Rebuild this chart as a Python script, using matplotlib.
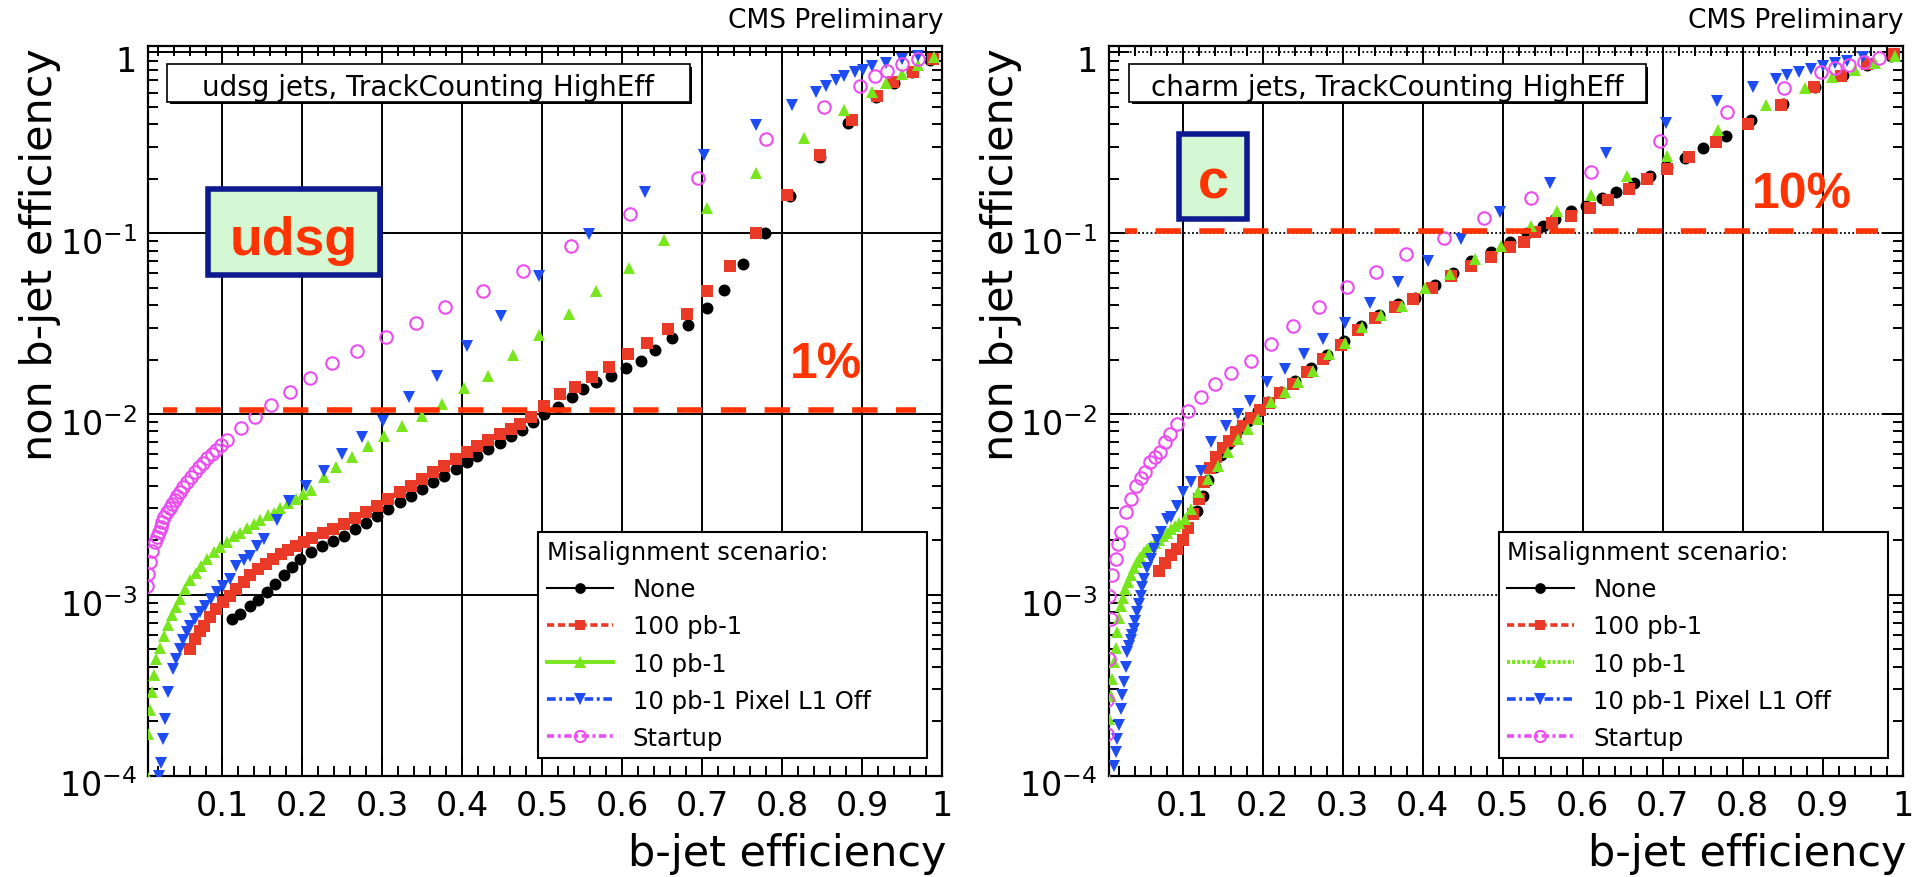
import matplotlib
matplotlib.use('Agg')
import matplotlib.pyplot as plt
from matplotlib.lines import Line2D
from matplotlib.patches import Rectangle
from matplotlib.ticker import FixedLocator, NullFormatter, LogLocator
import matplotlib.transforms as mtransforms

plt.rcParams['font.family'] = ['DejaVu Sans']
plt.rcParams['mathtext.fontset'] = 'dejavusans'

# ---------------- data ----------------
x_ticks = [0.1, 0.2, 0.3, 0.4, 0.5, 0.6, 0.7, 0.8, 0.9, 1.0]
x_tick_labels = ['0.1', '0.2', '0.3', '0.4', '0.5', '0.6', '0.7', '0.8', '0.9', '1']
y_ticks = [1e-4, 1e-3, 1e-2, 1e-1, 1.0]
y_tick_labels = [r'$\mathregular{10^{-4}}$', r'$\mathregular{10^{-3}}$',
                 r'$\mathregular{10^{-2}}$', r'$\mathregular{10^{-1}}$', '1']
scenario_labels = ['None', '100 pb-1', '10 pb-1', '10 pb-1 Pixel L1 Off', 'Startup']

# udsg jets
udsg_none_eff = [0.112, 0.122, 0.135, 0.145, 0.156, 0.166, 0.177, 0.187, 0.198, 0.211,
                 0.225, 0.239, 0.253, 0.266, 0.280, 0.294, 0.308, 0.322, 0.336, 0.350,
                 0.364, 0.378, 0.392, 0.406, 0.419, 0.433, 0.447, 0.461, 0.475, 0.489,
                 0.503, 0.520, 0.537, 0.551, 0.568, 0.586, 0.605, 0.624, 0.641, 0.663,
                 0.683, 0.706, 0.728, 0.751, 0.779, 0.810, 0.848, 0.882, 0.918, 0.940,
                 0.962, 0.985]
udsg_none_rej = [7.3e-4, 7.8e-4, 8.7e-4, 9.4e-4, 1.03e-3, 1.15e-3, 1.28e-3, 1.42e-3, 1.58e-3, 1.72e-3,
                 1.86e-3, 1.99e-3, 2.12e-3, 2.3e-3, 2.5e-3, 2.74e-3, 2.98e-3, 3.25e-3, 3.53e-3, 3.85e-3,
                 4.2e-3, 4.56e-3, 4.98e-3, 5.4e-3, 5.88e-3, 6.4e-3, 6.95e-3, 7.6e-3, 8.2e-3, 9.0e-3,
                 1.0e-2, 1.1e-2, 1.24e-2, 1.37e-2, 1.5e-2, 1.63e-2, 1.79e-2, 1.97e-2, 2.26e-2, 2.62e-2,
                 3.11e-2, 3.85e-2, 4.88e-2, 6.73e-2, 0.1005, 0.160, 0.263, 0.408, 0.566, 0.68,
                 0.78, 0.91]

udsg_100_eff = [0.060, 0.066, 0.072, 0.077, 0.085, 0.093, 0.101, 0.110, 0.118, 0.127,
                0.135, 0.145, 0.155, 0.164, 0.174, 0.183, 0.192, 0.202, 0.213, 0.226,
                0.239, 0.253, 0.266, 0.280, 0.294, 0.308, 0.322, 0.336, 0.350, 0.364,
                0.378, 0.392, 0.406, 0.419, 0.433, 0.447, 0.461, 0.472, 0.486, 0.503,
                0.523, 0.541, 0.562, 0.584, 0.608, 0.631, 0.658, 0.681, 0.706, 0.735,
                0.768, 0.806, 0.848, 0.887, 0.919, 0.939, 0.964, 0.989]
udsg_100_rej = [5.0e-4, 5.7e-4, 6.3e-4, 6.7e-4, 7.5e-4, 8.3e-4, 9.1e-4, 9.9e-4, 1.08e-3, 1.18e-3,
                1.28e-3, 1.38e-3, 1.48e-3, 1.58e-3, 1.68e-3, 1.77e-3, 1.86e-3, 1.95e-3, 2.05e-3, 2.2e-3,
                2.32e-3, 2.46e-3, 2.65e-3, 2.88e-3, 3.11e-3, 3.38e-3, 3.68e-3, 4.01e-3, 4.38e-3, 4.77e-3,
                5.17e-3, 5.65e-3, 6.15e-3, 6.68e-3, 7.2e-3, 7.75e-3, 8.3e-3, 8.8e-3, 9.6e-3, 1.11e-2,
                1.29e-2, 1.41e-2, 1.6e-2, 1.81e-2, 2.15e-2, 2.47e-2, 2.95e-2, 3.57e-2, 4.78e-2, 6.57e-2,
                0.1005, 0.163, 0.271, 0.425, 0.574, 0.685, 0.778, 0.92]

udsg_10_eff = [0.0067, 0.008, 0.010, 0.012, 0.015, 0.018, 0.022, 0.027, 0.032, 0.037,
               0.042, 0.048, 0.054, 0.060, 0.067, 0.074, 0.081, 0.090, 0.098, 0.106,
               0.115, 0.123, 0.131, 0.140, 0.148, 0.157, 0.165, 0.173, 0.182, 0.192,
               0.201, 0.211, 0.228, 0.243, 0.263, 0.283, 0.302, 0.325, 0.350, 0.375,
               0.402, 0.432, 0.464, 0.496, 0.534, 0.568, 0.609, 0.653, 0.706, 0.768,
               0.828, 0.878, 0.912, 0.930, 0.950, 0.970, 0.990]
udsg_10_rej = [1.0e-4, 1.7e-4, 2.3e-4, 2.9e-4, 3.6e-4, 4.4e-4, 5.1e-4, 5.9e-4, 6.8e-4, 7.7e-4,
               8.5e-4, 9.5e-4, 1.08e-3, 1.2e-3, 1.32e-3, 1.45e-3, 1.58e-3, 1.72e-3, 1.83e-3, 1.95e-3,
               2.1e-3, 2.2e-3, 2.33e-3, 2.45e-3, 2.6e-3, 2.75e-3, 2.85e-3, 3.0e-3, 3.2e-3, 3.39e-3,
               3.6e-3, 3.8e-3, 4.47e-3, 5.07e-3, 5.76e-3, 6.64e-3, 7.53e-3, 8.6e-3, 9.8e-3, 1.14e-2,
               1.39e-2, 1.63e-2, 2.12e-2, 2.74e-2, 3.57e-2, 4.81e-2, 6.4e-2, 9.18e-2, 0.1375, 0.215,
               0.336, 0.481, 0.608, 0.68, 0.76, 0.85, 0.94]

udsg_l1off_eff = [0.0217, 0.0233, 0.0267, 0.0287, 0.0329, 0.0392, 0.043, 0.0475, 0.051, 0.0558,
                  0.060, 0.0663, 0.072, 0.0788, 0.086, 0.0933, 0.101, 0.110, 0.118, 0.127,
                  0.135, 0.144, 0.1525, 0.1683, 0.1838, 0.2054, 0.2275, 0.2504, 0.2746, 0.3017,
                  0.3338, 0.369, 0.4058, 0.4483, 0.4963, 0.559, 0.6288, 0.702, 0.768, 0.813,
                  0.842, 0.855, 0.868, 0.878, 0.891, 0.901, 0.912, 0.930, 0.950, 0.970]
udsg_l1off_rej = [1.0e-4, 1.18e-4, 1.59e-4, 2.05e-4, 2.88e-4, 3.88e-4, 4.4e-4, 5.0e-4, 5.6e-4, 6.2e-4,
                  6.7e-4, 7.34e-4, 8.0e-4, 8.7e-4, 9.5e-4, 1.03e-3, 1.12e-3, 1.22e-3, 1.45e-3, 1.55e-3,
                  1.64e-3, 1.85e-3, 2.03e-3, 2.6e-3, 3.31e-3, 4.01e-3, 4.85e-3, 6.01e-3, 7.43e-3, 9.18e-3,
                  1.236e-2, 1.63e-2, 2.39e-2, 3.5e-2, 5.78e-2, 9.9e-2, 0.1686, 0.271, 0.398, 0.513,
                  0.603, 0.65, 0.70, 0.74, 0.78, 0.80, 0.84, 0.88, 0.92, 0.95]

udsg_startup_eff = [0.0058, 0.008, 0.010, 0.013, 0.0163, 0.0185, 0.0213, 0.0235, 0.0254, 0.028,
                    0.0317, 0.035, 0.038, 0.041, 0.044, 0.048, 0.0517, 0.056, 0.0608, 0.066,
                    0.0713, 0.076, 0.0817, 0.087, 0.092, 0.099, 0.1067, 0.1233, 0.1413, 0.161,
                    0.1846, 0.21, 0.2379, 0.269, 0.3054, 0.342, 0.3788, 0.4267, 0.4763, 0.536,
                    0.6105, 0.695, 0.78, 0.852, 0.8975, 0.916, 0.931, 0.95, 0.97]
udsg_startup_rej = [1.12e-3, 1.3e-3, 1.51e-3, 1.75e-3, 1.95e-3, 2.08e-3, 2.22e-3, 2.38e-3, 2.52e-3, 2.68e-3,
                    2.86e-3, 3.02e-3, 3.18e-3, 3.35e-3, 3.53e-3, 3.72e-3, 3.93e-3, 4.2e-3, 4.47e-3, 4.77e-3,
                    5.07e-3, 5.38e-3, 5.69e-3, 6.0e-3, 6.34e-3, 6.75e-3, 7.21e-3, 8.34e-3, 9.6e-3, 1.12e-2,
                    1.33e-2, 1.58e-2, 1.91e-2, 2.22e-2, 2.66e-2, 3.18e-2, 3.9e-2, 4.77e-2, 6.21e-2, 8.54e-2,
                    0.127, 0.2015, 0.333, 0.502, 0.656, 0.74, 0.79, 0.86, 0.92]

# charm jets
charm_none_eff = [0.118, 0.125, 0.132, 0.140, 0.148, 0.157, 0.165, 0.173, 0.182, 0.194,
                  0.207, 0.223, 0.240, 0.261, 0.280, 0.302, 0.323, 0.346, 0.369, 0.390,
                  0.415, 0.438, 0.461, 0.486, 0.509, 0.530, 0.550, 0.566, 0.585, 0.604,
                  0.624, 0.642, 0.664, 0.684, 0.706, 0.728, 0.751, 0.779, 0.810, 0.850,
                  0.890, 0.925, 0.955, 0.985]
charm_none_rej = [2.9e-3, 3.5e-3, 4.3e-3, 5.1e-3, 5.9e-3, 6.8e-3, 7.6e-3, 8.4e-3, 9.2e-3, 1.04e-2,
                  1.17e-2, 1.33e-2, 1.52e-2, 1.79e-2, 2.12e-2, 2.52e-2, 3.05e-2, 3.55e-2, 4.05e-2, 4.4e-2,
                  5.2e-2, 6.05e-2, 7.0e-2, 7.9e-2, 8.9e-2, 1.0e-1, 0.110, 0.120, 0.132, 0.141,
                  0.156, 0.170, 0.190, 0.206, 0.232, 0.260, 0.295, 0.344, 0.424, 0.52,
                  0.64, 0.75, 0.85, 0.95]

charm_100_eff = [0.070, 0.078, 0.086, 0.093, 0.100, 0.107, 0.113, 0.120, 0.127, 0.134,
                 0.142, 0.150, 0.158, 0.167, 0.176, 0.186, 0.197, 0.208, 0.222, 0.238,
                 0.256, 0.276, 0.298, 0.319, 0.341, 0.365, 0.388, 0.412, 0.436, 0.461,
                 0.486, 0.509, 0.527, 0.541, 0.562, 0.585, 0.609, 0.632, 0.658, 0.681,
                 0.706, 0.733, 0.767, 0.807, 0.848, 0.889, 0.923, 0.955, 0.989]
charm_100_rej = [1.35e-3, 1.5e-3, 1.65e-3, 1.78e-3, 2.0e-3, 2.35e-3, 2.8e-3, 3.4e-3, 4.2e-3, 5.0e-3,
                 5.8e-3, 6.5e-3, 7.1e-3, 7.9e-3, 8.6e-3, 9.5e-3, 1.05e-2, 1.15e-2, 1.3e-2, 1.47e-2,
                 1.7e-2, 2.02e-2, 2.42e-2, 2.9e-2, 3.4e-2, 3.9e-2, 4.3e-2, 5.0e-2, 5.8e-2, 6.62e-2,
                 7.36e-2, 8.36e-2, 8.9e-2, 0.101, 0.1136, 0.125, 0.1375, 0.153, 0.176, 0.2,
                 0.227, 0.263, 0.321, 0.403, 0.515, 0.643, 0.745, 0.86, 0.98]

charm_10_eff = [0.005, 0.0079, 0.010, 0.012, 0.0142, 0.0163, 0.0183, 0.020, 0.0225, 0.025,
                0.0287, 0.032, 0.035, 0.039, 0.0433, 0.047, 0.0517, 0.056, 0.060, 0.065,
                0.070, 0.075, 0.080, 0.085, 0.090, 0.096, 0.1025, 0.1108, 0.1192, 0.1317,
                0.1442, 0.1567, 0.169, 0.1817, 0.194, 0.211, 0.2275, 0.244, 0.263, 0.283,
                0.3025, 0.3246, 0.3483, 0.3746, 0.4025, 0.4338, 0.465, 0.4983, 0.535, 0.568,
                0.610, 0.655, 0.706, 0.769, 0.829, 0.8775, 0.912, 0.940, 0.965, 0.990]
charm_10_rej = [1.0e-4, 2.05e-4, 2.76e-4, 3.4e-4, 4.23e-4, 5.1e-4, 6.2e-4, 7.4e-4, 8.7e-4, 9.6e-4,
                1.08e-3, 1.18e-3, 1.28e-3, 1.4e-3, 1.51e-3, 1.62e-3, 1.72e-3, 1.8e-3, 1.85e-3, 1.93e-3,
                2.0e-3, 2.1e-3, 2.2e-3, 2.3e-3, 2.4e-3, 2.5e-3, 2.62e-3, 2.98e-3, 3.68e-3, 4.36e-3,
                5.17e-3, 6.14e-3, 7.28e-3, 8.26e-3, 9.4e-3, 1.16e-2, 1.32e-2, 1.5e-2, 1.74e-2, 2.15e-2,
                2.47e-2, 3.02e-2, 3.53e-2, 3.98e-2, 4.96e-2, 5.95e-2, 7.21e-2, 8.54e-2, 0.109, 0.132,
                0.1636, 0.208, 0.269, 0.374, 0.513, 0.634, 0.73, 0.80, 0.88, 0.96]

charm_l1off_eff = [0.0142, 0.0163, 0.0183, 0.020, 0.0225, 0.0245, 0.0267, 0.029, 0.0308, 0.033,
                   0.035, 0.037, 0.0392, 0.041, 0.0433, 0.0455, 0.0475, 0.0495, 0.0517, 0.056,
                   0.060, 0.064, 0.0683, 0.0733, 0.0808, 0.0858, 0.093, 0.1004, 0.1108, 0.1233,
                   0.1358, 0.1546, 0.169, 0.1846, 0.2054, 0.2275, 0.2513, 0.2754, 0.3025, 0.3346,
                   0.369, 0.4067, 0.4483, 0.4963, 0.559, 0.629, 0.704, 0.768, 0.813, 0.842,
                   0.855, 0.870, 0.885, 0.900, 0.915, 0.930, 0.950]
charm_l1off_rej = [1.13e-4, 1.35e-4, 1.59e-4, 1.9e-4, 2.33e-4, 2.8e-4, 3.27e-4, 4.0e-4, 4.8e-4, 5.2e-4,
                   5.6e-4, 6.0e-4, 6.46e-4, 7.2e-4, 8.0e-4, 8.9e-4, 9.9e-4, 1.1e-3, 1.22e-3, 1.4e-3,
                   1.58e-3, 1.8e-3, 2.0e-3, 2.21e-3, 2.62e-3, 2.68e-3, 3.1e-3, 3.68e-3, 4.18e-3, 4.85e-3,
                   6.97e-3, 8.62e-3, 1.0e-2, 1.185e-2, 1.51e-2, 1.77e-2, 2.15e-2, 2.6e-2, 3.19e-2, 4.11e-2,
                   5.36e-2, 7.05e-2, 9.3e-2, 0.1306, 0.19, 0.277, 0.408, 0.542, 0.643, 0.715,
                   0.75, 0.78, 0.81, 0.84, 0.87, 0.90, 0.94]

charm_startup_eff = [0.005, 0.006, 0.0079, 0.010, 0.0079, 0.0121, 0.0163, 0.019, 0.0225, 0.0296,
                     0.0358, 0.0413, 0.0475, 0.0525, 0.0588, 0.0655, 0.0713, 0.0783, 0.0838, 0.0933,
                     0.1067, 0.1233, 0.140, 0.160, 0.185, 0.2108, 0.2379, 0.270, 0.3054, 0.342,
                     0.3796, 0.4267, 0.4763, 0.536, 0.611, 0.6966, 0.781, 0.852, 0.8975, 0.916,
                     0.933, 0.952, 0.970]
charm_startup_rej = [1.7e-4, 2.6e-4, 4.4e-4, 7.3e-4, 9.9e-4, 1.28e-3, 1.58e-3, 1.9e-3, 2.22e-3, 2.86e-3,
                     3.39e-3, 4.0e-3, 4.4e-3, 4.76e-3, 5.4e-3, 5.8e-3, 6.14e-3, 7.0e-3, 7.75e-3, 8.8e-3,
                     1.04e-2, 1.236e-2, 1.47e-2, 1.69e-2, 1.97e-2, 2.44e-2, 3.08e-2, 3.9e-2, 5.03e-2, 6.13e-2,
                     7.68e-2, 9.42e-2, 0.1216, 0.156, 0.219, 0.3256, 0.471, 0.634, 0.778, 0.82,
                     0.85, 0.89, 0.93]

# reference working-point lines
udsg_cut_eff = [0.0266, 0.9675]
udsg_cut_rej = [0.01056, 0.01056]
charm_cut_eff = [0.0281, 0.969]
charm_cut_rej = [0.1026, 0.1026]

# ---------------- styling ----------------
RED = '#e93a28'
GREEN = '#78e61c'
BLUE = '#1c4cf2'
MAGENTA = '#ea4ef0'
CUT_RED = '#ff3300'
NAVY = '#0d1a8f'
MINT = '#d4f8d4'

W, H = 1922, 878
fig = plt.figure(figsize=(W / 100, H / 100), dpi=100)
fig.patch.set_facecolor('white')


def px_rect(x0, x1, ytop, ybot):
    return [x0 / W, 1 - ybot / H, (x1 - x0) / W, (ybot - ytop) / H]


ax_l = fig.add_axes(px_rect(148, 942, 46.7, 776.5))
ax_r = fig.add_axes(px_rect(1108.5, 1902.5, 46.7, 776.5))

marker_specs = [
    dict(color='black', marker='o', ms=8.6, mfc='black', mew=0),
    dict(color=RED, marker='s', ms=8.0, mfc=RED, mew=0),
    dict(color=GREEN, marker='^', ms=9.2, mfc=GREEN, mew=0),
    dict(color=BLUE, marker='v', ms=9.2, mfc=BLUE, mew=0),
    dict(color=MAGENTA, marker='o', ms=9.0, mfc='none', mew=1.5),
]


def setup_axes(ax, dotted_y):
    ax.set_xscale('linear')
    ax.set_yscale('log')
    ax.set_xlim(0.0075, 1.0)
    ax.set_ylim(1e-4, 1.09)
    ax.xaxis.set_major_locator(FixedLocator(x_ticks))
    ax.xaxis.set_minor_locator(FixedLocator([i * 0.02 for i in range(1, 50)]))
    ax.set_xticklabels(x_tick_labels)
    ax.yaxis.set_major_locator(FixedLocator(y_ticks))
    ax.yaxis.set_minor_locator(LogLocator(base=10, subs=range(2, 10), numticks=30))
    ax.yaxis.set_minor_formatter(NullFormatter())
    ax.set_yticklabels(y_tick_labels)
    ax.tick_params(which='both', direction='in', top=True, right=True, width=1.4, colors='black')
    ax.tick_params(which='major', length=14.5, labelsize=24)
    ax.tick_params(which='minor', length=7.5)
    ax.tick_params(axis='x', pad=10)
    ax.tick_params(axis='y', pad=8)
    for sp in ax.spines.values():
        sp.set_linewidth(1.6)
    ax.grid(True, which='major', axis='x', color='black', lw=1.4, ls='-')
    if dotted_y:
        ax.grid(True, which='major', axis='y', color='black', lw=1.3, ls=(0, (1, 1.3)))
    else:
        ax.grid(True, which='major', axis='y', color='black', lw=1.4, ls='-')
    off = mtransforms.ScaledTranslation(0, 7 / 100, fig.dpi_scale_trans)
    for lbl in ax.get_yticklabels():
        lbl.set_va('top')
        lbl.set_transform(lbl.get_transform() + off)
    ax.set_xlabel('b-jet efficiency', fontsize=31, ha='right', va='baseline')
    ax.xaxis.set_label_coords((946 - 148) / 794, (776.5 - 866) / 729.8)
    ax.set_ylabel('non b-jet efficiency', fontsize=31, ha='right', va='center',
                  rotation=90, rotation_mode='anchor')
    ax.yaxis.set_label_coords((40 - 148) / 794, (776.5 - 48) / 729.8)


def title_box(ax, x0, x1, text):
    ytop = (776.5 - 65) / 729.8
    ybot = (776.5 - 102.5) / 729.8
    sx, sy = 2.5 / 794, 2.5 / 729.8
    ax.add_patch(Rectangle((x0 + sx, ybot - sy), x1 - x0, ytop - ybot, transform=ax.transAxes,
                           fc='black', ec='none', zorder=7, clip_on=False))
    ax.add_patch(Rectangle((x0, ybot), x1 - x0, ytop - ybot, transform=ax.transAxes,
                           fc='white', ec='black', lw=1.2, zorder=8, clip_on=False))
    ax.text((x0 + x1) / 2, (776.5 - 88) / 729.8, text, transform=ax.transAxes,
            ha='center', va='center', fontsize=20, zorder=9)


def add_legend(ax, green_ls):
    styles = ['-', (0, (2.0, 1.0)), green_ls, (0, (2.4, 1.0, 0.8, 1.0)), (0, (2.0, 1.0, 0.8, 1.0))]
    widths = [1.5, 2.6, 2.8, 2.6, 2.6]
    handles = []
    for spec, lab, ls, lw in zip(marker_specs, scenario_labels, styles, widths):
        handles.append(Line2D([], [], color=spec['color'], ls=ls, lw=lw, marker=spec['marker'],
                              ms=spec['ms'] * 0.9, mfc=spec['mfc'], mec=spec['color'],
                              mew=spec['mew'], label=lab))
    leg = ax.legend(handles=handles, title='Misalignment scenario:', loc='lower left',
                    bbox_to_anchor=(0.4912, 0.0236, 0.4905, 0.3165), mode='expand',
                    borderaxespad=0, fontsize=17.5, title_fontsize=17.5, alignment='left',
                    frameon=True, fancybox=False, framealpha=1, edgecolor='black',
                    handlelength=2.75, handletextpad=0.8, labelspacing=0.54, borderpad=0.35)
    leg.get_frame().set_linewidth(1.5)
    leg.set_zorder(10)


def plot_series(ax, effs, rejs):
    for spec, e, r in zip(marker_specs, effs, rejs):
        ax.plot(e, r, ls='none', marker=spec['marker'], ms=spec['ms'], mfc=spec['mfc'],
                mec=spec['color'], mew=spec['mew'], zorder=3)


# ---- left panel: udsg ----
setup_axes(ax_l, dotted_y=False)
plot_series(ax_l,
            [udsg_none_eff, udsg_100_eff, udsg_10_eff, udsg_l1off_eff, udsg_startup_eff],
            [udsg_none_rej, udsg_100_rej, udsg_10_rej, udsg_l1off_rej, udsg_startup_rej])
ax_l.plot(udsg_cut_eff, udsg_cut_rej, color=CUT_RED, lw=4, ls=(2.03, (4.55, 3.33)),
          dash_capstyle='butt', zorder=4)
title_box(ax_l, (167 - 148) / 794, (689.5 - 148) / 794, 'udsg jets, TrackCounting HighEff')
add_legend(ax_l, '-')
ax_l.add_patch(Rectangle((0.07525, 0.68546), 0.21726, 0.11853, transform=ax_l.transAxes,
                         fc=MINT, ec=NAVY, lw=4, zorder=8))
ax_l.text(0.1834, 0.7146, 'udsg', transform=ax_l.transAxes, ha='center', va='baseline',
          fontsize=38.5, fontweight='bold', family='Liberation Sans', color=CUT_RED, zorder=9)
ax_l.text(0.8086, 0.5456, '1%', transform=ax_l.transAxes, ha='left', va='baseline',
          fontsize=36, fontweight='bold', family='Liberation Sans', color=CUT_RED, zorder=9)

# ---- right panel: charm ----
setup_axes(ax_r, dotted_y=True)
plot_series(ax_r,
            [charm_none_eff, charm_100_eff, charm_10_eff, charm_l1off_eff, charm_startup_eff],
            [charm_none_rej, charm_100_rej, charm_10_rej, charm_l1off_rej, charm_startup_rej])
ax_r.plot(charm_cut_eff, charm_cut_rej, color=CUT_RED, lw=4, ls=(2.39, (4.55, 3.33)),
          dash_capstyle='butt', zorder=4)
title_box(ax_r, (1129 - 1108.5) / 794, (1645.5 - 1108.5) / 794, 'charm jets, TrackCounting HighEff')
add_legend(ax_r, (0, (0.8, 0.5)))
ax_r.add_patch(Rectangle((0.0888, 0.7625), 0.0859, 0.1165, transform=ax_r.transAxes,
                         fc=MINT, ec=NAVY, lw=4, zorder=8))
ax_r.text(0.1321, 0.7923, 'c', transform=ax_r.transAxes, ha='center', va='baseline',
          fontsize=40, fontweight='bold', family='Liberation Sans', color=CUT_RED, zorder=9)
ax_r.text(0.8100, 0.7786, '10%', transform=ax_r.transAxes, ha='left', va='baseline',
          fontsize=36, fontweight='bold', family='Liberation Sans', color=CUT_RED, zorder=9)

for xr in (944, 1904):
    fig.text(xr / W, 1 - 28 / H, 'CMS Preliminary', ha='right', va='baseline', fontsize=19)

fig.savefig('out.png', dpi=100, facecolor='white')
